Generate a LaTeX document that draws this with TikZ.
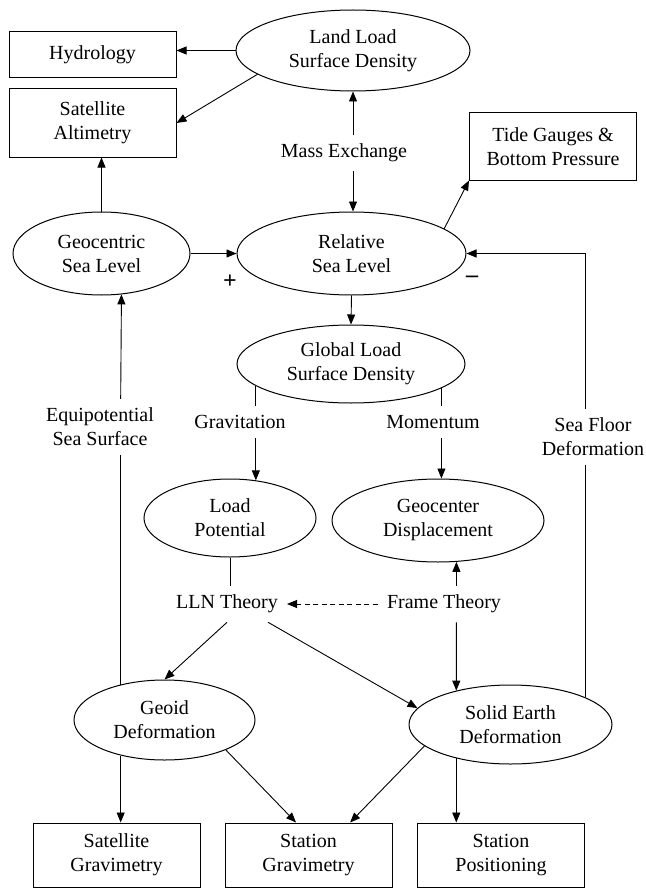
\documentclass[tikz,border=0pt]{standalone}
\usepackage{fontspec}
\setmainfont{Liberation Serif}
\usetikzlibrary{shapes.geometric}
\usetikzlibrary{arrows.meta}

\begin{document}
\begin{tikzpicture}[x=1pt, y=-1pt,
    every node/.style={font=\fontsize{20}{24}\selectfont, align=center},
    box/.style={draw, line width=1pt, minimum width=167pt, inner sep=0pt},
    oval/.style={draw, ellipse, line width=1pt, inner sep=0pt},
    lbl/.style={inner sep=9pt},
    sign/.style={font=\fontsize{24}{28}\selectfont\bfseries},
    arr/.style={-{Triangle[length=10pt,width=8pt]}, line width=0.9pt},
    con/.style={line width=0.9pt}
]
    \useasboundingbox (0,0) rectangle (645,888);

    % Boxes
    \node[box, minimum height=46pt] (hydro) at (92.5,55) {Hydrology};
    \node[box, minimum height=68pt] (satalt) at (92.5,123) {Satellite\\Altimetry};
    \node[box, minimum height=67pt] (tide) at (553,146.5) {Tide Gauges \&\\Bottom Pressure};
    \foreach \n/\x/\t in {satgrav/116.5/{Satellite\\Gravimetry},
                          stagrav/308.5/{Station\\Gravimetry},
                          stapos/501/{Station\\Positioning}}{
        \node[box, minimum height=64pt] (\n) at (\x,855) {\t};
    }

    % Ellipses
    \node[oval, minimum width=234pt, minimum height=81pt] (land) at (353,50.5) {Land Load\\Surface Density};
    \node[oval, minimum width=177pt, minimum height=83pt] (geo) at (101.5,253.5) {Geocentric\\Sea Level};
    \node[oval, minimum width=229pt, minimum height=83pt] (rel) at (351.5,253.5) {Relative\\Sea Level};
    \node[oval, minimum width=228pt, minimum height=78pt] (glob) at (351,364) {Global Load\\Surface Density};
    \node[oval, minimum width=172pt, minimum height=78pt] (loadpot) at (230,518) {Load\\Potential};
    \node[oval, minimum width=212pt, minimum height=83pt] (geocen) at (438,520.5) {Geocenter\\Displacement};
    \node[oval, minimum width=181pt, minimum height=80pt] (geoid) at (164.5,720) {Geoid\\Deformation};
    \node[oval, minimum width=203pt, minimum height=79pt] (solid) at (510.5,724.5) {Solid Earth\\Deformation};

    % Labels
    \node[lbl] (mass) at (344,153) {Mass Exchange};
    \node[lbl] (equip) at (100,427) {Equipotential\\Sea Surface};
    \node[lbl] (grav) at (240,422) {Gravitation};
    \node[lbl] (mom) at (433,422) {Momentum};
    \node[lbl] (sea) at (593,437) {Sea Floor\\Deformation};
    \node[lbl] (lln) at (227,604) {LLN Theory};
    \node[lbl] (frame) at (444,604) {Frame Theory};
    \node[sign] (plus) at (230,282) {+};
    \node[sign] (minus) at (472,279) {--};

    % Top connectors
    \draw[arr] (land.west) -- (land.west -| hydro.east);
    \draw[arr] (land.194) -- (satalt.east);
    \draw[arr] (mass.north -| land.south) -- (land.south);
    \draw[arr] (mass.south -| land.south) -- (land.south |- rel.north);
    \draw[arr] (rel.15) -- (tide.south west);
    \draw[arr] (geo.north) -- (geo.north |- satalt.south);
    \draw[arr] (geo.east) -- (rel.west);
    \draw[arr] (rel.south) -- (glob.north);

    % Sea floor feedback
    \draw[con] (solid.20) -- (solid.20 |- sea.south);
    \draw[arr] (sea.north -| solid.20) |- (rel.east);

    % Equipotential surface
    \draw[con] (geoid.141) -- (geoid.141 |- equip.south);
    \draw[arr] (equip.north -| geoid.141) -- (geo.296);

    % Gravitation and momentum
    \draw[con] (glob.193) -- (glob.193 |- grav.north);
    \draw[arr] (grav.south -| glob.193) -- (glob.193 |- loadpot.55);
    \draw[con] (glob.345) -- (glob.345 |- mom.north);
    \draw[arr] (mom.south -| glob.345) -- (glob.345 |- geocen.north);

    % Theories
    \draw[con] (loadpot.south) -- (lln.north -| loadpot.south);
    \draw[arr] (frame.north -| geocen.294) -- (geocen.294);
    \draw[arr] (frame.south -| geocen.294) -- (solid.148);
    \draw[arr, dash pattern=on 5pt off 3.5pt] (frame.west) -- (lln.east);
    \draw[arr] (lln.south) -- (geoid.north);
    \draw[arr] (lln.336) -- (solid.170);

    % Observables
    \draw[arr] (geoid.219) -- (geoid.219 |- satgrav.north);
    \draw[arr] (geoid.334) -- (stagrav.111);
    \draw[arr] (solid.194) -- (stagrav.38);
    \draw[arr] (solid.212) -- (solid.212 |- stapos.north);
\end{tikzpicture}
\end{document}
